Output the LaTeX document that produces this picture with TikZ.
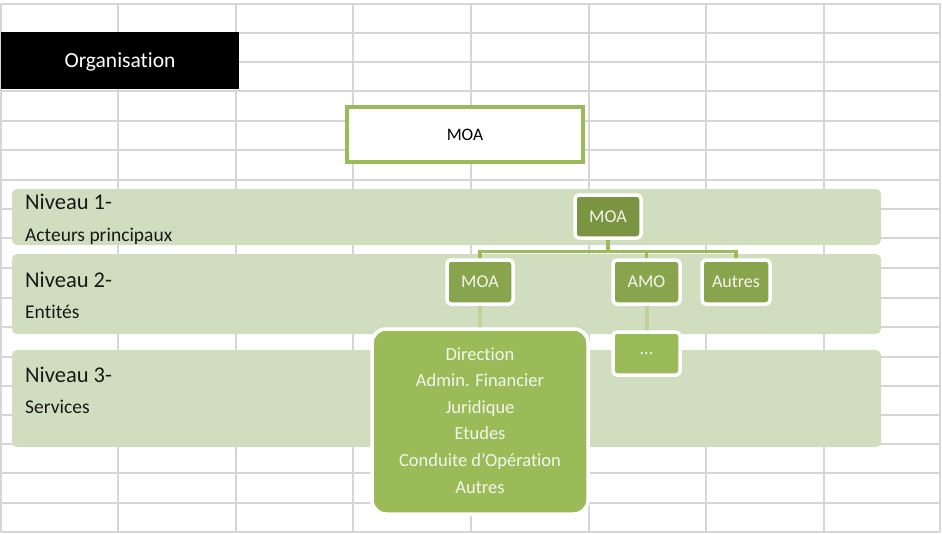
\documentclass[tikz,border=0pt]{standalone}
\usepackage{fontspec}
\setmainfont[Ligatures=NoCommon]{Carlito}
\definecolor{gridc}{HTML}{D6D6D6}
\definecolor{bandc}{HTML}{D0DDBE}
\definecolor{darkg}{HTML}{7A9441}
\definecolor{midg}{HTML}{88A44C}
\definecolor{lightg}{HTML}{9BBB59}
\definecolor{connc}{HTML}{9BBB59}
\definecolor{conn2c}{HTML}{BFD29A}
\definecolor{txtw}{HTML}{F4F6EE}
\pgfdeclarelayer{bottom}
\pgfdeclarelayer{background}
\pgfsetlayers{bottom,background,main}
\tikzset{
  band/.style={fill=bandc, rounded corners=5pt},
  gbox/.style={draw=white, line width=3.5pt, rounded corners=4pt, inner sep=0pt, text=txtw, font=\fontsize{18}{21}\selectfont},
  bus/.style={draw=connc, line width=3.5pt},
  sub/.style={draw=conn2c, line width=4pt},
  lvl/.style={anchor=base west, inner sep=0pt, text=black!90, font=\fontsize{22.5}{26}\selectfont},
  lvlsub/.style={anchor=base west, inner sep=0pt, text=black!90, font=\fontsize{19.5}{23}\selectfont},
  biglabel/.style={anchor=base, inner sep=0pt, text=txtw, font=\fontsize{18.5}{21}\selectfont}
}
\begin{document}
\begin{tikzpicture}[x=1pt,y=-1pt]
\useasboundingbox (0,0) rectangle (942,533);
\begin{pgfonlayer}{bottom}
% grid
\foreach \gx in {1,118,236,353,471,589,706,824,940}
  \draw[gridc, line width=1.5pt] (\gx,4) -- (\gx,532);
\foreach \gy in {4,33,62,91,121,150,180,209,238,268,298,327,357,386,415,444,473,503,532}
  \draw[gridc, line width=1.5pt] (1,\gy) -- (940,\gy);
% bands
\path[band] (12,189) rectangle (881,245);
\path[band] (12,254) rectangle (881,334);
\path[band] (12,350) rectangle (881,447);
\end{pgfonlayer}
% title
\node[fill=black, minimum width=238pt, minimum height=57pt, inner sep=0pt, text depth=0pt, text=white, font=\fontsize{21.5}{25}\selectfont] (title) at (120,60.5) {Organisation};
% top MOA
\node[draw=lightg, fill=white, line width=3.5pt, minimum width=236pt, minimum height=55pt, inner sep=0pt, font=\fontsize{17.5}{21}\selectfont] (top) at (465,134.5) {MOA};
\node[lvl] (n1) at (25,209) {Niveau 1-};
\node[lvlsub] (n1s) at (25,241) {Acteurs principaux};
\node[lvl] (n2) at (25,287) {Niveau 2-};
\node[lvlsub] (n2s) at (25,318) {Entités};
\node[lvl] (n3) at (25,382) {Niveau 3-};
\node[lvlsub] (n3s) at (25,413) {Services};
% boxes
\node[gbox, fill=darkg, minimum width=66pt, minimum height=43pt] (moa1) at (608,216.5) {MOA};
\node[gbox, fill=midg, minimum width=66pt, minimum height=44pt] (moa2) at (480,282) {MOA};
\node[gbox, fill=midg, minimum width=67pt, minimum height=44pt] (amo) at (646.5,282) {AMO};
\node[gbox, fill=midg, minimum width=68pt, minimum height=44pt] (autres) at (736,282) {Autres};
\node[gbox, fill=lightg, minimum width=67pt, minimum height=43pt] (dots) at (646.5,353.5) {...};
\node[gbox, fill=lightg, rounded corners=14pt, minimum width=216pt, minimum height=185pt] (big) at (480,421.5) {};
\foreach \t [count=\i from 0] in {Direction,Admin. Financier,Juridique,Etudes,Conduite d'Opération,Autres}
  \node[biglabel] (l\i) at (480,360+26.6*\i) {\t};
\coordinate (busc) at (608,251.5);
% connectors
\begin{pgfonlayer}{background}
\draw[bus] (moa1.south) -- (busc);
\draw[bus] (moa2.north) |- (busc) -| (autres.north);
\draw[bus] (amo.north) -- (amo.north |- busc);
\draw[sub] (moa2.south) -- (big.north);
\draw[sub] (amo.south) -- (dots.north);
\end{pgfonlayer}
\end{tikzpicture}
\end{document}
